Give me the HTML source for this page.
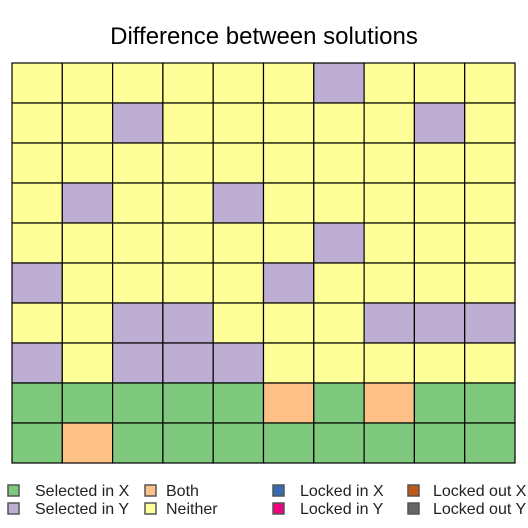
<!DOCTYPE html>
<html><head><meta charset="utf-8"><style>
body{margin:0;background:#fff;}
svg{display:block;font-family:"Liberation Sans",sans-serif;}
</style></head><body>
<svg id="chart" width="528" height="528">
<rect width="528" height="528" fill="#fff"/>
<text x="264" y="44" font-size="24" text-anchor="middle">Difference between solutions</text>
<g id="cells"></g>
<g id="legend"></g>
</svg>
<script>
// category codes: 0 neither, 1 selected X, 2 selected Y, 3 both
const categories = ["Neither","Selected in X","Selected in Y","Both"];
const gridRows = [
"0000002000",
"0020000020",
"0000000000",
"0200200000",
"0000002000",
"2000020000",
"0022000222",
"2022200000",
"1111131311",
"1311111111"
];
const colors = {0:"#ffff99",1:"#7fc97f",2:"#beaed4",3:"#fdc086"};
const legendLabels = ["Selected in X","Selected in Y","Both","Neither","Locked in X","Locked in Y","Locked out X","Locked out Y"];
const legendColors = ["#7fc97f","#beaed4","#fdc086","#ffff99","#386cb0","#f0027f","#bf5b17","#666666"];

const NS="http://www.w3.org/2000/svg";
const x0=12,x1=515,y0=63,y1=463;
const nC=10,nR=gridRows.length;
const cw=(x1-x0)/nC, rh=(y1-y0)/nR;
const xs=c=>x0+c*cw, ys=r=>y0+r*rh;
const g=document.getElementById('cells');
gridRows.forEach((row,r)=>{
  [...row].forEach((ch,c)=>{
    const el=document.createElementNS(NS,'rect');
    el.setAttribute('x',xs(c));el.setAttribute('y',ys(r));
    el.setAttribute('width',cw);el.setAttribute('height',rh);
    el.setAttribute('fill',colors[+ch]);
    el.setAttribute('stroke','#000');el.setAttribute('stroke-width','1.2');
    
    
    g.appendChild(el);
  });
});
const lg=document.getElementById('legend');
const colX=[8,145,273,408], textX=[35,166,300,433], rowY=[485,503];
legendLabels.forEach((lab,i)=>{
  const col=Math.floor(i/2), rr=i%2;
  const s=document.createElementNS(NS,'rect');
  s.setAttribute('x',colX[col]);s.setAttribute('y',rowY[rr]);
  s.setAttribute('width',11);s.setAttribute('height',11);
  s.setAttribute('fill',legendColors[i]);s.setAttribute('stroke','#555');s.setAttribute('stroke-width','1.5');
  
  
  lg.appendChild(s);
  const t=document.createElementNS(NS,'text');
  t.setAttribute('x',textX[col]);t.setAttribute('y',rowY[rr]+11);
  t.setAttribute('font-size','16');t.setAttribute('fill','#222');
  t.textContent=lab;
  
  
  lg.appendChild(t);
});
</script>
</body></html>
